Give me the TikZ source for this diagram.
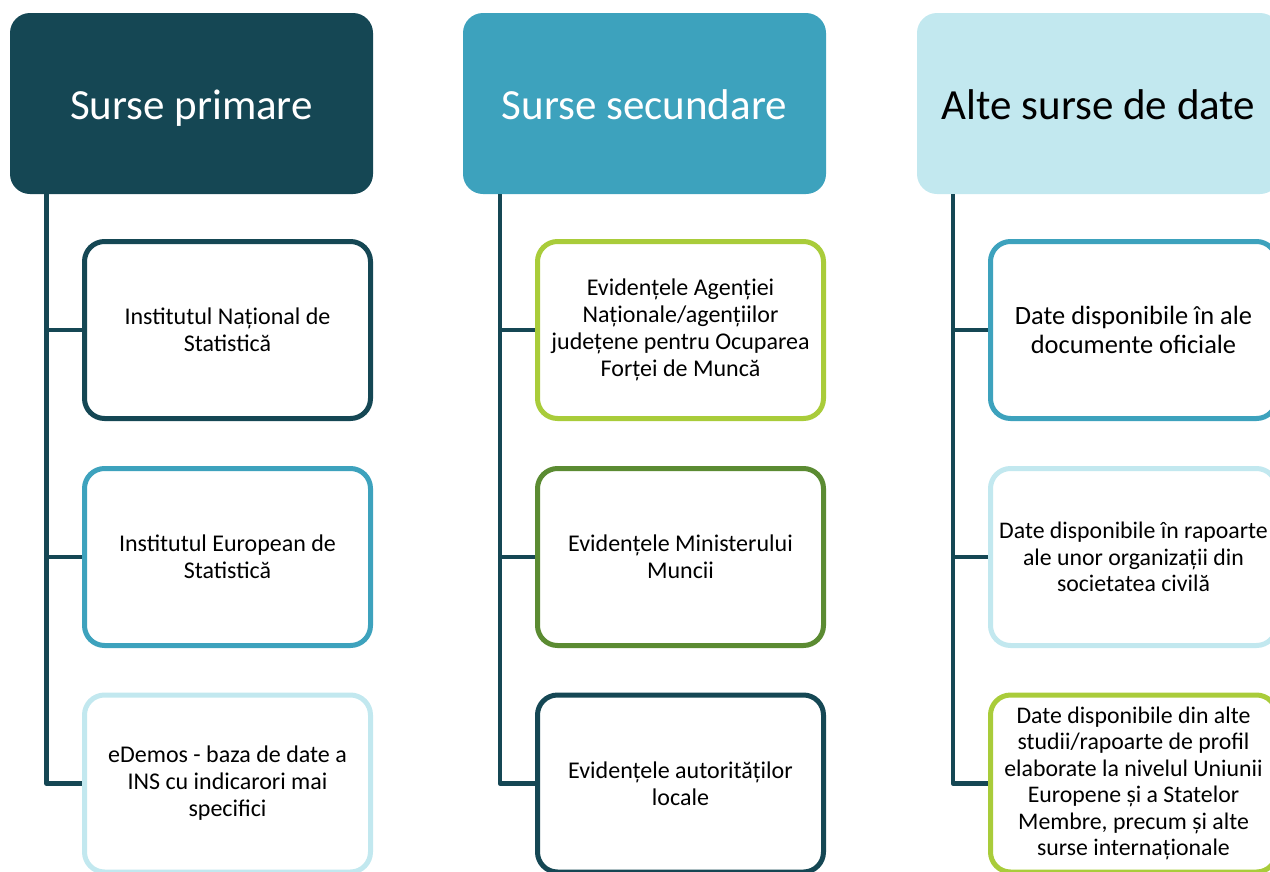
\documentclass[tikz,border=0pt]{standalone}
\usepackage{fontspec}
\setmainfont{Carlito}
\definecolor{tealdark}{HTML}{154754}
\definecolor{tealmid}{HTML}{3DA2BD}
\definecolor{teallight}{HTML}{C2E8EF}
\definecolor{lime}{HTML}{A9CC3A}
\definecolor{leaf}{HTML}{5B8B32}

\tikzset{
  hdr/.style={fill=#1, rounded corners=20pt, inner sep=0, minimum width=363pt, minimum height=181pt, text height=31pt, text depth=0pt, font=\fontsize{43}{52}\selectfont},
  srcbox/.style={draw=#1, fill=white, line width=5pt, rounded corners=20pt, inner sep=0, minimum width=286pt, minimum height=177pt, align=center, font=\fontsize{24}{27}\selectfont},
  link/.style={draw=tealdark, line width=4.5pt, line join=round}
}

\begin{document}
\begin{tikzpicture}[x=1pt,y=-1pt]
    \useasboundingbox (0,0) rectangle (1270,871);
    \clip (0,0) rectangle (1270,871);

    % headers
    \node[hdr=tealdark, text=white] (hdr_a) at (191.5,103.5) {Surse primare};
    \node[hdr=tealmid, text=white] (hdr_b) at (644.5,103.5) {Surse secundare};
    \node[hdr=teallight, text=black] (hdr_c) at (1098.5,103.5) {Alte surse de date};

    \coordinate (trunk_a) at (46.5,194);
    \coordinate (trunk_b) at (500,194);
    \coordinate (trunk_c) at (953,194);

    % column 1
    \node[srcbox=tealdark] (a1) at (227.5,330) {Institutul Național de\\Statistică};
    \node[srcbox=tealmid] (a2) at (227.5,557) {Institutul European de\\Statistică};
    \node[srcbox=teallight] (a3) at (227.5,783.5) {eDemos - baza de date a\\INS cu indicarori mai\\specifici};

    % column 2
    \node[srcbox=lime] (b1) at (680.5,330) {Evidențele Agenției\\Naționale/agențiilor\\județene pentru Ocuparea\\Forței de Muncă};
    \node[srcbox=leaf] (b2) at (680.5,557) {Evidențele Ministerului\\Muncii};
    \node[srcbox=tealdark] (b3) at (680.5,783.5) {Evidențele autorităților\\locale};

    % column 3
    \node[srcbox=tealmid, font=\fontsize{26.4}{29}\selectfont] (c1) at (1133.5,330) {Date disponibile în ale\\documente oficiale};
    \node[srcbox=teallight, font=\fontsize{23.8}{26.5}\selectfont] (c2) at (1133.5,557) {Date disponibile în rapoarte\\ale unor organizații din\\societatea civilă};
    \node[srcbox=lime, font=\fontsize{23.8}{26.5}\selectfont] (c3) at (1133.5,783.5) {Date disponibile din alte\\studii/rapoarte de profil\\elaborate la nivelul Uniunii\\Europene și a Statelor\\Membre, precum și alte\\surse internaționale};

    % connectors
    \foreach \col in {a,b,c} {
      \draw[link] (trunk_\col) |- (\col3.west);
      \draw[link] (trunk_\col |- \col1.west) -- (\col1.west);
      \draw[link] (trunk_\col |- \col2.west) -- (\col2.west);
    }
\end{tikzpicture}
\end{document}
